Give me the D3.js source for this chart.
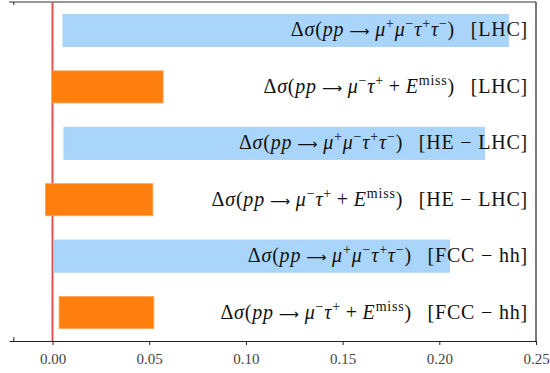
<!DOCTYPE html>
<html>
<head>
<meta charset="utf-8">
<script src="https://cdn.jsdelivr.net/npm/d3@7"></script>
<style>
  body { margin: 0; background: #fff; }
  text { font-family: "Liberation Serif", "DejaVu Serif", serif; }
</style>
</head>
<body>
<div id="chart"></div>
<script>
// bars from top to bottom
var colliders = ["LHC", "LHC", "HE \u2212 LHC", "HE \u2212 LHC", "FCC \u2212 hh", "FCC \u2212 hh"];
var channels = ["4l", "2lE", "4l", "2lE", "4l", "2lE"];
var lowValues = [0.0054, -0.0004, 0.0059, -0.0037, 0.0008, 0.0034];
var highValues = [0.2358, 0.0572, 0.2234, 0.0519, 0.2052, 0.0524];
var xTicks = [0, 0.05, 0.10, 0.15, 0.20, 0.25];

// label pieces: [text, style]  (i = italic, s = superscript, a = arrow)
var fourLepton = [["\u0394", ""], ["\u03c3", "i"], ["(", ""], ["pp", "i"], ["\u27f6", "a"],
    ["\u03bc", "i"], ["+", "s"], ["\u03bc", "i"], ["\u2212", "s"], ["\u03c4", "i"], ["+", "s"],
    ["\u03c4", "i"], ["\u2212", "s"], [")", ""]];
var twoLeptonMiss = [["\u0394", ""], ["\u03c3", "i"], ["(", ""], ["pp", "i"], ["\u27f6", "a"],
    ["\u03bc", "i"], ["\u2212", "s"], ["\u03c4", "i"], ["+", "s"], ["\u2009+\u2009", ""], ["E", "i"],
    ["miss", "s"], [")", ""]];

var data = channels.map(function(c, i) {
    return { id: i, channel: c, collider: colliders[i], lo: lowValues[i], hi: highValues[i] };
});

var width = 550, height = 373;
var plotLeft = 9, plotRight = 536, plotTop = 2, plotBottom = 341;

var svg = d3.select("#chart").append("svg")
    .attr("width", width)
    .attr("height", height);

var x = d3.scaleLinear().domain([-0.0225, 0.25]).range([plotLeft, plotRight]);
var y = d3.scaleBand().domain(data.map(function(d) { return d.id; }))
    .range([plotTop, plotBottom]).paddingInner(0.43).paddingOuter(0.22);

// zero line (behind bars)
svg.append("line")
    .attr("x1", x(0)).attr("x2", x(0))
    .attr("y1", plotTop).attr("y2", plotBottom)
    .attr("stroke", "#e05252").attr("stroke-width", 2);

svg.selectAll("rect.bar").data(data).enter().append("rect")
    .attr("class", "bar")
    .attr("x", function(d) { return x(d.lo); })
    .attr("y", function(d) { return y(d.id); })
    .attr("width", function(d) { return x(d.hi) - x(d.lo); })
    .attr("height", y.bandwidth())
    .attr("fill", function(d) { return d.channel == "4l" ? "#aad5fb" : "#ff7f0e"; })
    .attr("stroke", function(d) { return d.channel == "4l" ? "#a3cdf2" : "#ffa85a"; })
    .attr("stroke-width", 0.8);

// labels
var labels = svg.selectAll("text.lab").data(data).enter().append("text")
    .attr("class", "lab")
    .attr("x", 528)
    .attr("y", function(d) { return y(d.id) + y.bandwidth() / 2 + 6; })
    .attr("text-anchor", "end")
    .attr("font-size", 20)
    .attr("letter-spacing", 0.8)
    .attr("fill", "#111");

labels.each(function(d) {
    var t = d3.select(this);
    var parts = (d.channel == "4l" ? fourLepton : twoLeptonMiss).slice();
    parts.push(["\u2002\u2009[" + d.collider + "]", ""]);
    var raised = false;
    parts.forEach(function(p, k) {
        var span = t.append("tspan").text(p[0]);
        if (p[1] == "i") span.attr("font-style", "italic");
        if (p[1] == "a") span.attr("font-family", "'DejaVu Sans', sans-serif")
            .attr("font-size", 14).attr("dx", 5);
        if (p[1] == "s") {
            span.attr("font-size", 14);
            if (!raised) { span.attr("dy", -8); raised = true; }
        } else if (raised) {
            span.attr("dy", 8); raised = false;
        }
        if (k == 5) span.attr("dx", 5);
    });
});

// frame
svg.append("line").attr("x1", plotLeft).attr("x2", plotRight).attr("y1", plotTop).attr("y2", plotTop)
    .attr("stroke", "#777").attr("stroke-width", 1.5);
svg.append("line").attr("x1", plotRight).attr("x2", plotRight).attr("y1", plotTop).attr("y2", plotBottom)
    .attr("stroke", "#222").attr("stroke-width", 1.2);

// inward tick at -0.02
svg.append("line").attr("x1", x(-0.02)).attr("x2", x(-0.02)).attr("y1", plotTop).attr("y2", plotTop + 3)
    .attr("stroke", "#222");
svg.append("line").attr("x1", x(-0.02)).attr("x2", x(-0.02)).attr("y1", plotBottom - 4).attr("y2", plotBottom)
    .attr("stroke", "#222");

var xAxis = d3.axisBottom(x).tickValues(xTicks).tickFormat(d3.format(".2f"))
    .tickSize(4).tickSizeOuter(0).tickPadding(8);

var gx = svg.append("g").attr("transform", "translate(0," + plotBottom + ")").call(xAxis);
gx.select(".domain").attr("stroke", "#222").attr("stroke-width", 1.2);
gx.selectAll(".tick line").attr("stroke", "#222");
gx.selectAll(".tick text")
    .attr("font-family", "'Liberation Serif', serif")
    .attr("font-size", 15)
    .attr("fill", "#444");
</script>
</body>
</html>
